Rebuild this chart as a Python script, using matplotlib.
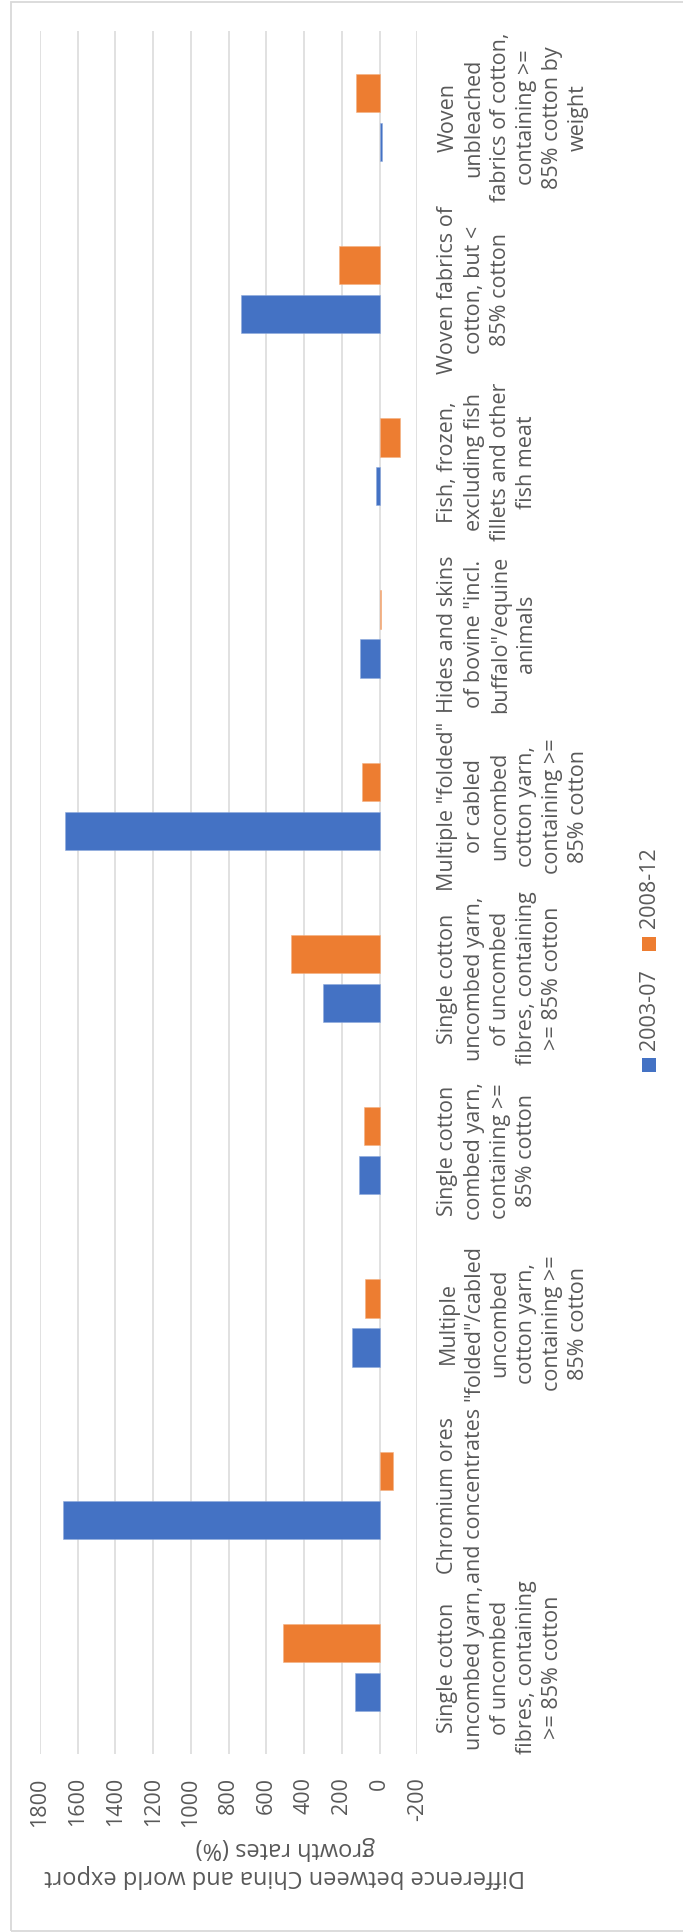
import matplotlib
matplotlib.use("Agg")
import matplotlib.pyplot as plt
from matplotlib.patches import Rectangle
import numpy as np

plt.rcParams['font.family'] = ['Open Sans', 'DejaVu Sans']

categories = [
    'Single cotton\nuncombed yarn,\nof uncombed\nfibres, containing\n>= 85% cotton',
    'Chromium ores\nand concentrates',
    'Multiple\n"folded"/cabled\nuncombed\ncotton yarn,\ncontaining >=\n85% cotton',
    'Single cotton\ncombed yarn,\ncontaining >=\n85% cotton',
    'Single cotton\nuncombed yarn,\nof uncombed\nfibres, containing\n>= 85% cotton',
    'Multiple "folded"\nor cabled\nuncombed\ncotton yarn,\ncontaining >=\n85% cotton',
    'Hides and skins\nof bovine "incl.\nbuffalo"/equine\nanimals',
    'Fish, frozen,\nexcluding fish\nfillets and other\nfish meat',
    'Woven fabrics of\ncotton, but <\n85% cotton',
    'Woven\nunbleached\nfabrics of cotton,\ncontaining >=\n85% cotton by\nweight',
]
series_names = ['2003-07', '2008-12']
values_2003_07 = [129, 1678, 145, 108, 302, 1666, 102, 18, 735, -12]
values_2008_12 = [512, -69, 76, 80, 467, 95, -9, -110, 214, 124]
value_ticks = [1800, 1600, 1400, 1200, 1000, 800, 600, 400, 200, 0, -200]
axis_title = 'Difference between China and world export\ngrowth rates (%)'

BLUE = '#4472C4'
ORANGE = '#ED7D31'
GRID = '#D9D9D9'
TEXT = '#595959'
FS = 15.5

W, H = 683, 1932
fig = plt.figure(figsize=(W / 100, H / 100), dpi=100)

# axes in pixel geometry
x0, x1 = 40.0, 417.3
ytop, ybot = 31.2, 1753.6
ax = fig.add_axes([x0 / W, 1 - ybot / H, (x1 - x0) / W, (ybot - ytop) / H])
ax.set_xlim(1800, -200)
ax.set_ylim(-0.5, len(categories) - 0.5)

pos = np.arange(len(categories))
bw = 0.2225
off = 0.142
ax.barh(pos - off, values_2003_07, height=bw, color=BLUE, edgecolor='#8FAADC',
        linewidth=0.4, zorder=3, label=series_names[0])
ax.barh(pos + off, values_2008_12, height=bw, color=ORANGE, edgecolor='#F4B183',
        linewidth=0.4, zorder=3, label=series_names[1])

ax.set_xticks(value_ticks)
ax.set_xticklabels([str(v) for v in value_ticks])
ax.tick_params(axis='x', length=0, pad=17, labelrotation=90, labelsize=FS, labelcolor=TEXT)
for lab in ax.get_xticklabels():
    lab.set_va('top')
    lab.set_ha('center')
ax.grid(axis='x', color=GRID, linewidth=1.1, zorder=0)
ax.set_axisbelow(True)

ax.yaxis.tick_right()
ax.set_yticks(pos)
ax.set_yticklabels(categories)
ax.tick_params(axis='y', length=0, pad=14.5, labelsize=FS, labelcolor=TEXT)
for lab in ax.get_yticklabels():
    lab.set_rotation(90)
    lab.set_ha('left')
    lab.set_va('center')
    lab.set_multialignment('center')
    lab.set_linespacing(1.32)

for s in ax.spines.values():
    s.set_visible(False)

# axis title (upside down, as in reference)
fig.text(285 / W, 1 - 1862 / H, axis_title, rotation=180, ha='center', va='center',
         multialignment='center', fontsize=17, color=TEXT, linespacing=1.25)

# legend (rotated)
leg_items = [(series_names[0], BLUE, 1058, 1050), (series_names[1], ORANGE, 937, 928)]
for name, col, sq_top, txt_bot in leg_items:
    fig.patches.append(Rectangle((642 / W, 1 - (sq_top + 13.5) / H), 13.5 / W, 13.5 / H,
                                 transform=fig.transFigure, facecolor=col, edgecolor='none'))
    fig.text(649 / W, 1 - txt_bot / H, name, rotation=90, ha='center', va='bottom',
             fontsize=FS, color=TEXT)

# chart border
fig.patches.append(Rectangle((11 / W, 1 - 1930.5 / H), (W + 20) / W, 1928.5 / H,
                             transform=fig.transFigure, facecolor='none',
                             edgecolor=GRID, linewidth=1.3))

fig.savefig('out.png', dpi=100)
